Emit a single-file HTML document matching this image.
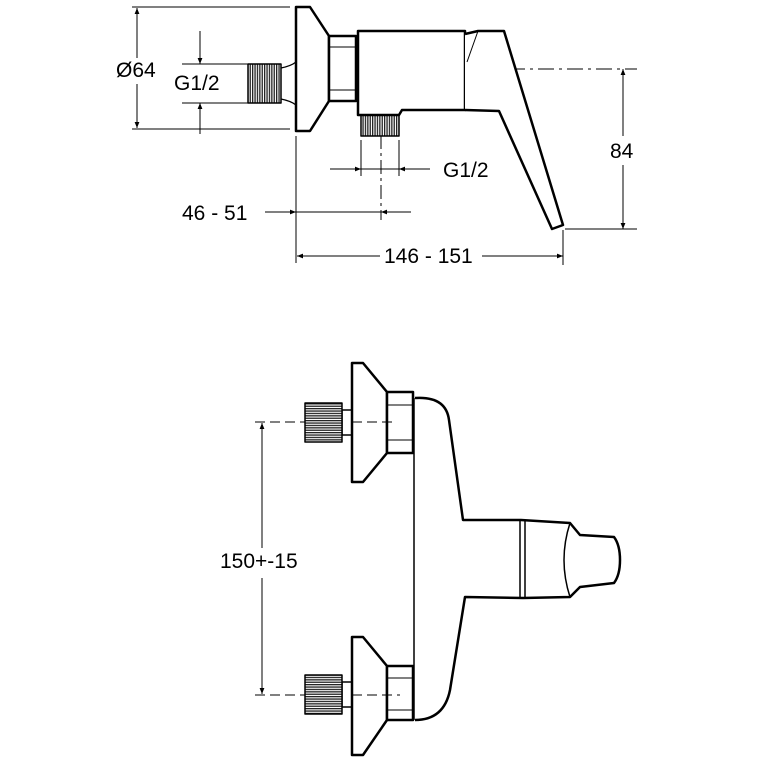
<!DOCTYPE html>
<html><head><style>html,body{margin:0;padding:0;background:#fff}svg{display:block}</style></head>
<body>
<svg width="760" height="760" viewBox="0 0 760 760" xmlns="http://www.w3.org/2000/svg" font-family="Liberation Sans, Arial, sans-serif">
<defs>
<pattern id="th" width="2.4" height="4" patternUnits="userSpaceOnUse"><rect width="2.4" height="4" fill="#fff"/><rect width="1.3" height="4" fill="#222"/></pattern>
<pattern id="tv" width="4" height="2.4" patternUnits="userSpaceOnUse"><rect width="4" height="2.4" fill="#fff"/><rect width="4" height="1.3" fill="#222"/></pattern>
<marker id="a" viewBox="0 0 10 10" refX="10" refY="5" markerWidth="10" markerHeight="6" orient="auto-start-reverse" markerUnits="userSpaceOnUse"><path d="M0,1 L10,5 L0,9 Z" fill="#000"/></marker>
</defs>
<g stroke="#000" fill="none" stroke-width="1">
<line x1="132" y1="7" x2="290" y2="7"/><line x1="132" y1="129" x2="290" y2="129"/>
<line x1="137" y1="8" x2="137" y2="58" marker-start="url(#a)"/><line x1="137" y1="84" x2="137" y2="128" marker-end="url(#a)"/>
<line x1="182" y1="64" x2="248" y2="64"/><line x1="182" y1="103" x2="248" y2="103"/>
<line x1="200" y1="31" x2="200" y2="64" marker-end="url(#a)"/><line x1="200" y1="134" x2="200" y2="103" marker-end="url(#a)"/>
<line x1="306" y1="69" x2="637" y2="69" stroke-dasharray="16,5,3,5"/>
<line x1="381" y1="110" x2="381" y2="220" stroke-dasharray="14,4,3,4"/>
<line x1="361" y1="140" x2="361" y2="176"/><line x1="399" y1="140" x2="399" y2="176"/>
<line x1="330" y1="169" x2="361" y2="169" marker-end="url(#a)"/><line x1="430" y1="169" x2="399" y2="169" marker-end="url(#a)"/>
<line x1="361" y1="169" x2="399" y2="169"/>
<line x1="296" y1="136" x2="296" y2="263"/>
<line x1="265" y1="212" x2="296" y2="212" marker-end="url(#a)"/><line x1="411" y1="212" x2="381" y2="212" marker-end="url(#a)"/>
<line x1="296" y1="212" x2="381" y2="212"/>
<line x1="563" y1="230" x2="563" y2="265"/>
<line x1="565" y1="229" x2="637" y2="229"/>
<line x1="623" y1="69" x2="623" y2="136" marker-start="url(#a)"/><line x1="623" y1="165" x2="623" y2="229" marker-end="url(#a)"/>
<line x1="297" y1="256" x2="380" y2="256" marker-start="url(#a)"/><line x1="482" y1="256" x2="563" y2="256" marker-end="url(#a)"/>
</g>
<g fill="#000" font-size="21">
<text x="116" y="77">Ø64</text>
<text x="174" y="90">G1/2</text>
<text x="443" y="177">G1/2</text>
<text x="182" y="220">46 - 51</text>
<text x="610" y="158">84</text>
<text x="384" y="263">146 - 151</text>
<text x="220" y="568">150+-15</text>
</g>
<g stroke="#000" stroke-width="2.5" fill="#fff" stroke-linejoin="round">
<rect x="248" y="64" width="33" height="39" fill="url(#th)" stroke-width="1.5"/>
<path d="M281,68 Q291,66 296,62 M281,99 Q291,101 296,105" fill="none" stroke-width="1.2"/>
<path d="M296,7 L310,7 L329,36 L329,101 L310,131 L296,131 Z"/>
<rect x="329" y="36" width="27" height="65"/>
<line x1="329" y1="47" x2="356" y2="47" stroke-width="1"/><line x1="329" y1="90" x2="356" y2="90" stroke-width="1"/>
<rect x="361" y="114" width="38" height="22" fill="url(#th)" stroke-width="1.5"/>
<path d="M358,31 L465,31 L465,110 L402,110 L399,115 L358,115 Z"/>
<path d="M465,34 L478,31 L504,31 L563,225 L552,229 L499,111 L465,110"/>
<line x1="478" y1="31" x2="467" y2="62" stroke-width="1"/>
</g>
<g stroke="#000" fill="none" stroke-width="1">
<line x1="255" y1="422" x2="395" y2="422" stroke-dasharray="10,5"/>
<line x1="255" y1="695" x2="395" y2="695" stroke-dasharray="10,5"/>
<line x1="262" y1="423" x2="262" y2="548" marker-start="url(#a)"/>
<line x1="262" y1="578" x2="262" y2="694" marker-end="url(#a)"/>
</g>
<g stroke="#000" stroke-width="2.5" fill="#fff" stroke-linejoin="round">
<path d="M415,398 Q446,396 449,420 L463,520 L521,520 L570,523 L580,535 L614,537 Q620,545 620,560 Q620,575 614,583 L580,587 L570,597 L523,598 L465,597 L450,690 Q444,720 415,720"/>
<path d="M570,523 Q558,560 570,597" fill="none" stroke-width="1.5"/>
<line x1="520" y1="520" x2="520" y2="598" stroke-width="1.5"/><line x1="525" y1="520" x2="525" y2="598" stroke-width="1.5"/>
<line x1="414" y1="398" x2="414" y2="720" stroke-width="1.5"/>
<rect x="342" y="410" width="10" height="25" stroke-width="1.5"/>
<rect x="305" y="403" width="37" height="39" fill="url(#tv)" stroke-width="1.5"/>
<path d="M352,363 L363,363 L387,392 L387,453 L363,482 L352,482 Z"/>
<rect x="387" y="392" width="26" height="61"/>
<line x1="387" y1="405" x2="413" y2="405" stroke-width="1"/><line x1="387" y1="440" x2="413" y2="440" stroke-width="1"/>
<rect x="342" y="682" width="10" height="25" stroke-width="1.5"/>
<rect x="305" y="675" width="37" height="39" fill="url(#tv)" stroke-width="1.5"/>
<path d="M352,637 L363,637 L387,666 L387,720 L363,755 L352,755 Z"/>
<rect x="387" y="666" width="26" height="54"/>
<line x1="387" y1="678" x2="413" y2="678" stroke-width="1"/><line x1="387" y1="710" x2="413" y2="710" stroke-width="1"/>
</g>
<g stroke="#000" stroke-width="1" fill="none">
<line x1="352" y1="422" x2="395" y2="422" stroke-dasharray="10,5"/>
<line x1="352" y1="695" x2="400" y2="695" stroke-dasharray="10,5"/>
</g>
</svg>
</body></html>
